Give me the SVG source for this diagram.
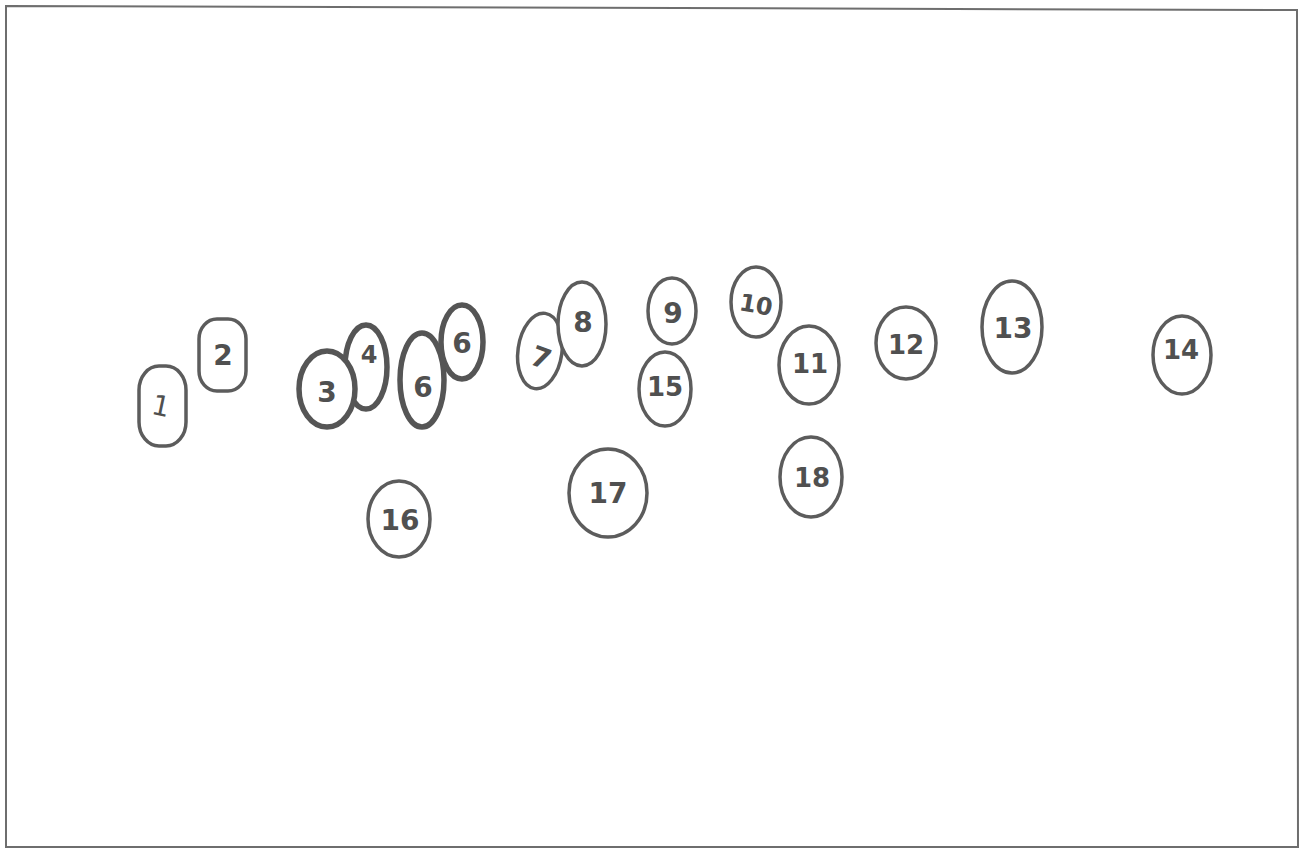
<svg xmlns="http://www.w3.org/2000/svg" width="1305" height="850" viewBox="0 0 1305 850">
<style>
.n{fill:#fff;stroke:#5c5c5c;stroke-width:3.5}
.b{stroke-width:5.5;stroke:#555}
.t{font-family:"DejaVu Sans","Liberation Sans",sans-serif;font-size:28px;font-weight:bold;fill:#505050;text-anchor:middle;dominant-baseline:central}
</style>
<rect width="1305" height="850" fill="#fff"/>
<path d="M6,6 L1297,10 L1298,847 L6,847 Z" fill="none" stroke="#6e6e6e" stroke-width="2"/>
<g id="connectors"/>
<g id="n1"><rect class="n" x="139" y="366" width="47" height="80" rx="20" ry="24"/><text class="t" x="161" y="406" style="font-weight:normal" transform="rotate(12 161 406)">1</text></g>
<g id="n2"><rect class="n" x="199" y="319" width="47" height="72" rx="18" ry="20"/><text class="t" x="223" y="355">2</text></g>
<g id="n4"><ellipse class="n b" cx="366" cy="367" rx="21" ry="42"/><text class="t" x="369" y="355" style="font-size:24px">4</text></g>
<g id="n3"><ellipse class="n b" cx="327" cy="389" rx="28" ry="38"/><text class="t" x="327" y="392">3</text></g>
<g id="n6a"><ellipse class="n b" cx="462" cy="342" rx="21" ry="37"/><text class="t" x="462" y="343">6</text></g>
<g id="n6b"><ellipse class="n b" cx="422" cy="380" rx="22" ry="47"/><text class="t" x="423" y="387">6</text></g>
<g id="n7"><ellipse class="n" cx="540" cy="351" rx="22" ry="38" transform="rotate(8 540 351)"/><text class="t" x="541" y="358" transform="rotate(20 541 358)">7</text></g>
<g id="n8"><ellipse class="n" cx="582" cy="324" rx="24" ry="42"/><text class="t" x="583" y="322">8</text></g>
<g id="n9"><ellipse class="n" cx="672" cy="311" rx="24" ry="33"/><text class="t" x="673" y="313">9</text></g>
<g id="n10"><ellipse class="n" cx="756" cy="302" rx="25" ry="35"/><text class="t" x="756" y="305" style="font-size:24px" transform="rotate(10 756 305)">10</text></g>
<g id="n11"><ellipse class="n" cx="809" cy="365" rx="30" ry="39"/><text class="t" x="810" y="364" style="font-size:26px">11</text></g>
<g id="n12"><ellipse class="n" cx="906" cy="343" rx="30" ry="36"/><text class="t" x="906" y="345" style="font-size:26px">12</text></g>
<g id="n13"><ellipse class="n" cx="1012" cy="327" rx="30" ry="46"/><text class="t" x="1013" y="328" style="font-size:28px">13</text></g>
<g id="n14"><ellipse class="n" cx="1182" cy="355" rx="29" ry="39"/><text class="t" x="1181" y="350" style="font-size:26px">14</text></g>
<g id="n15"><ellipse class="n" cx="665" cy="389" rx="26" ry="37"/><text class="t" x="665" y="387" style="font-size:26px">15</text></g>
<g id="n16"><ellipse class="n" cx="399" cy="519" rx="31" ry="38"/><text class="t" x="400" y="520" style="font-size:28px">16</text></g>
<g id="n17"><ellipse class="n" cx="608" cy="493" rx="39" ry="44"/><text class="t" x="608" y="493" style="font-size:28px">17</text></g>
<g id="n18"><ellipse class="n" cx="811" cy="477" rx="31" ry="40"/><text class="t" x="812" y="478" style="font-size:26px">18</text></g>
</svg>
